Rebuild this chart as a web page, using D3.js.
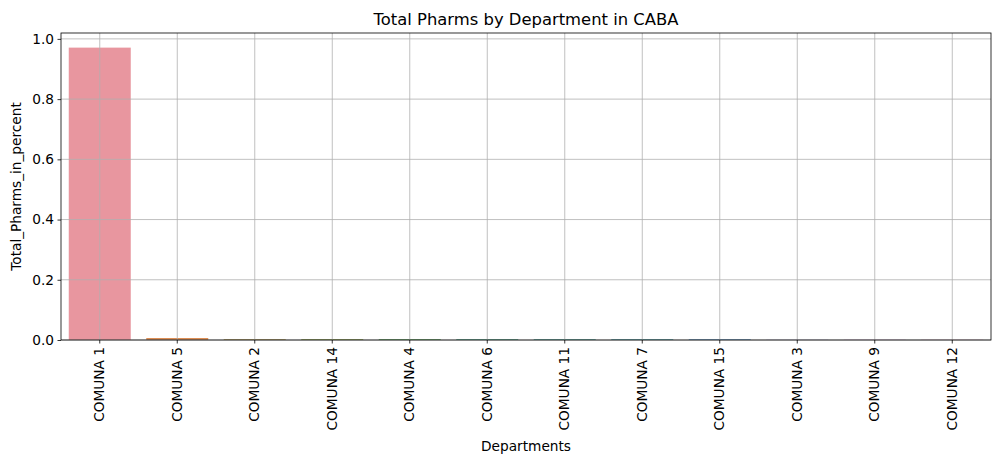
<!DOCTYPE html>
<html><head><meta charset="utf-8">
<script src="https://cdn.jsdelivr.net/npm/d3@7"></script>
<style>body{margin:0;background:#fff}text{font-family:"DejaVu Sans",sans-serif;fill:#000}</style>
</head><body><svg id="c" width="1001" height="464"></svg>
<script>
const categories = ["COMUNA 1","COMUNA 5","COMUNA 2","COMUNA 14","COMUNA 4","COMUNA 6","COMUNA 11","COMUNA 7","COMUNA 15","COMUNA 3","COMUNA 9","COMUNA 12"];
const values = [0.971,0.0065,0.003,0.003,0.003,0.003,0.003,0.003,0.003,0.0008,0.0008,0.0008];
const colors = ["#e8969f","#dd8a4e","#b69b4a","#8ba43e","#4fa853","#43a886","#44a69b","#45a3ad","#5d9ccf","#a08fd6","#d183cc","#e08bb4"];
const yTicks = [0,0.2,0.4,0.6,0.8,1.0];
const title = "Total Pharms by Department in CABA";
const xLabel = "Departments", yLabel = "Total_Pharms_in_percent";

const L=61,R=991,T=33,B=340;
const svg=d3.select("#c");
const x=d3.scaleBand().domain(categories).range([L,R]).paddingInner(0.2).paddingOuter(0.1);
const ymax=d3.max(values)*1.05;
const y=d3.scaleLinear().domain([0,ymax]).range([B,T]);

// bars
svg.append("g").selectAll("rect").data(categories).join("rect")
  .attr("x",d=>x(d)).attr("width",x.bandwidth())
  .attr("y",(d,i)=>y(values[i])).attr("height",(d,i)=>B-y(values[i]))
  .attr("fill",(d,i)=>colors[i]);

// grid
const g=svg.append("g").attr("stroke","#b0b0b0").attr("stroke-width",0.8);
categories.forEach(c=>g.append("line").attr("x1",x(c)+x.bandwidth()/2).attr("x2",x(c)+x.bandwidth()/2).attr("y1",T).attr("y2",B));
yTicks.forEach(t=>g.append("line").attr("x1",L).attr("x2",R).attr("y1",y(t)).attr("y2",y(t)));

// axes
const xa=svg.append("g").attr("transform",`translate(0,${B})`)
  .call(d3.axisBottom(x).tickSize(3.5).tickPadding(3.5).tickSizeOuter(0));
xa.select(".domain").remove();
xa.selectAll("line").attr("stroke","#000").attr("stroke-width",0.8);
xa.selectAll("text").attr("font-size","13.7px").attr("font-family","DejaVu Sans")
  .attr("text-anchor","end").attr("dy","0.32em")
  .attr("transform","rotate(-90)").attr("x",-7).attr("y",0);

const ya=svg.append("g").attr("transform",`translate(${L},0)`)
  .call(d3.axisLeft(y).tickValues(yTicks).tickFormat(d3.format(".1f")).tickSize(3.5).tickPadding(3.5).tickSizeOuter(0));
ya.select(".domain").remove();
ya.selectAll("line").attr("stroke","#000").attr("stroke-width",0.8);
ya.selectAll("text").attr("font-size","13.7px").attr("font-family","DejaVu Sans");

// frame
svg.append("rect").attr("x",L).attr("y",T).attr("width",R-L).attr("height",B-T)
  .attr("fill","none").attr("stroke","#000").attr("stroke-width",0.8);

svg.append("text").attr("x",(L+R)/2).attr("y",T-8).attr("text-anchor","middle").attr("font-size","16.4px").text(title);
svg.append("text").attr("x",(L+R)/2).attr("y",451).attr("text-anchor","middle").attr("font-size","13.7px").text(xLabel);
svg.append("text").attr("transform",`translate(21,${(T+B)/2}) rotate(-90)`).attr("text-anchor","middle").attr("font-size","13.7px").text(yLabel);
</script></body></html>
